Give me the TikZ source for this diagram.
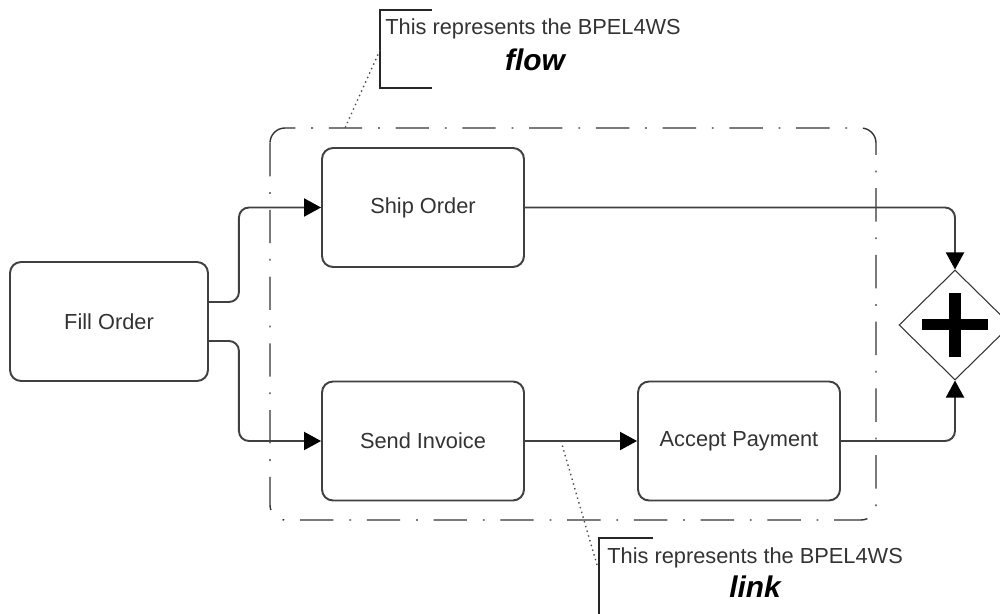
\documentclass[tikz,border=0pt]{standalone}
\usepackage{fontspec}
\setmainfont{Liberation Sans}
\usetikzlibrary{arrows.meta,shapes.geometric}

\begin{document}
\begin{tikzpicture}[x=0.02cm,y=-0.02cm,
  every node/.style={font=\fontsize{12.4}{14}\selectfont,text=black!80},
  task/.style={draw=black!75,line width=1.1pt,rounded corners=0.22cm,fill=white,
    minimum width=4.04cm,minimum height=2.38cm,inner sep=0pt},
  seq/.style={draw=black!75,line width=1.1pt,rounded corners=0.2cm,
    -{Triangle[length=0.34cm,width=0.36cm,color=black]}},
  group/.style={draw=black!80,line width=0.8pt,rounded corners=0.3cm,
    dash pattern=on 19pt off 9pt on 1pt off 9pt},
  note/.style={draw=black!70,line width=0.8pt,dotted},
  bracket/.style={draw=black!85,line width=0.9pt},
  comment/.style={anchor=base west,inner sep=0pt},
  big/.style={font=\fontsize{17}{19}\selectfont\bfseries\itshape,text=black,anchor=base}]
  \useasboundingbox (0,0) rectangle (1000,614);

  % the flow group
  \draw[group] (270,128) rectangle (876,520);

  % activities
  \node[task,minimum width=3.96cm] (fill) at (109,321.5) {Fill Order};
  \node[task] (ship) at (423,207.5) {Ship Order};
  \node[task] (invoice) at (423,441) {Send Invoice};
  \node[task] (pay) at (739,441) {Accept Payment};

  % parallel gateway
  \node[diamond,draw=black!80,line width=0.6pt,fill=white,inner sep=0pt,
    minimum width=2.24cm,minimum height=2.2cm] (join) at (955,325) {};
  \fill (join.center) +(-33,-5.5) rectangle +(33,5.5);
  \fill (join.center) +(-6,-32) rectangle +(6,32);

  % sequence flows
  \draw[seq] ([yshift=0.39cm]fill.east) -- ++(30,0) |- (ship.west);
  \draw[seq] ([yshift=-0.39cm]fill.east) -- ++(30,0) |- (invoice.west);
  \draw[seq] (ship.east) -| (join.north);
  \draw[seq] (invoice.east) -- (pay.west);
  \draw[seq] (pay.east) -| (join.south);

  % annotations
  \node[comment] (flowtext) at (385,35) {This represents the BPEL4WS};
  \node[big] (flowword) at (535,71) {flow};
  \draw[bracket] (432,10) -- (380,10) -- (380,88) -- (432,88);
  \coordinate (flowmark) at (380,50);
  \coordinate (flowtip) at (345,128);
  \draw[note] (flowmark) -- (flowtip);

  \node[comment] (linktext) at (607,563) {This represents the BPEL4WS};
  \node[big] (linkword) at (755,597) {link};
  \draw[bracket] (653,538) -- (599,538) -- (599,640);
  \coordinate (linkmark) at (597,565);
  \coordinate (linktip) at (561,441);
  \draw[note] (linkmark) -- (linktip);
\end{tikzpicture}
\end{document}
